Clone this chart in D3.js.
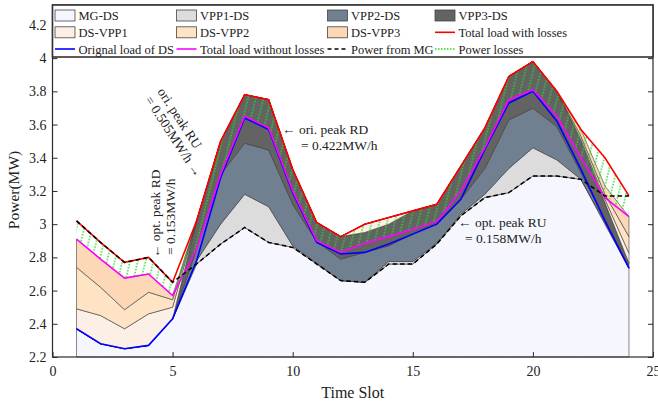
<!DOCTYPE html>
<html>
<head>
<meta charset="utf-8">
<script src="https://cdn.jsdelivr.net/npm/d3@7/dist/d3.min.js"></script>
<style>
body { margin: 0; background: #fff; }
svg { display: block; font-family: "Liberation Serif", "Times New Roman", serif; }
</style>
</head>
<body>
<svg id="chart" width="658" height="405"></svg>
<script>

//------------------------------------------------------------------------------
// Data
//------------------------------------------------------------------------------

var hours = [1,2,3,4,5,6,7,8,9,10,11,12,13,14,15,16,17,18,19,20,21,22,23,24];

// stacked areas, bottom to top (MG-DS is absolute, the rest are thicknesses)
var mgDs   = [2.37,2.28,2.25,2.27,2.43,2.76,2.88,2.98,2.89,2.86,2.76,2.66,2.65,2.76,2.76,2.88,3.05,3.16,3.19,3.29,3.29,3.27,3.00,2.735];
var vpp1Ds = [0,0,0,0,0,0.02,0.12,0.20,0.215,0.01,0.005,0,0,0.015,0.015,0.005,0.01,0.02,0.146,0.17,0.097,0,0.01,0];
var vpp2Ds = [0,0,0,0,0,0.07,0.30,0.307,0.342,0.25,0.13,0.13,0.18,0.095,0.165,0.125,0.09,0.156,0.292,0.238,0.201,0.04,0.02,0];
var vpp3Ds = [0,0,0,0,0,0.17,0.20,0.293,0.303,0.21,0.115,0.135,0.12,0.13,0.14,0.11,0.20,0.244,0.262,0.282,0.212,0.19,0.10,0.03];
var dsVpp1 = [0.12,0.17,0.12,0.19,0.07,0,0,0,0,0,0,0,0.05,0.04,0,0,0,0,0,0,0,0.01,0.02,0.06];
var dsVpp2 = [0.25,0.17,0.115,0.13,0.045,0,0,0,0,0,0,0,0,0,0,0,0,0,0,0,0,0.02,0.03,0.10];
var dsVpp3 = [0.17,0.17,0.19,0.11,0.025,0,0,0,0,0,0,0,0,0,0,0,0,0,0,0,0,0.04,0.05,0.12];

// lines
var origLoad   = [2.37,2.28,2.25,2.27,2.43,2.78,3.28,3.64,3.57,3.19,2.89,2.82,2.83,2.88,2.94,3.00,3.15,3.45,3.73,3.80,3.62,3.33,3.02,2.735];
var loadNoLoss = [2.91,2.79,2.675,2.70,2.57,2.85,3.30,3.65,3.58,3.20,2.90,2.83,2.885,2.925,2.97,3.015,3.20,3.46,3.75,3.81,3.65,3.40,3.16,3.045];
var loadLoss   = [3.02,2.89,2.77,2.80,2.65,3.02,3.50,3.78,3.75,3.33,3.01,2.925,3.00,3.04,3.08,3.12,3.35,3.58,3.89,3.98,3.80,3.57,3.40,3.17];
var mgPower    = [3.02,2.89,2.77,2.80,2.65,2.76,2.88,2.98,2.89,2.86,2.76,2.66,2.65,2.76,2.76,2.88,3.05,3.16,3.19,3.29,3.29,3.27,3.17,3.17];

var xTicks = [0,5,10,15,20,25];
var yTicks = [2.2,2.4,2.6,2.8,3,3.2,3.4,3.6,3.8,4,4.2];

var areaKeys   = ["MG-DS","VPP1-DS","VPP2-DS","VPP3-DS","DS-VPP1","DS-VPP2","DS-VPP3"];
var areaValues = [mgDs, vpp1Ds, vpp2Ds, vpp3Ds, dsVpp1, dsVpp2, dsVpp3];
var areaColors = ["#f6f7fe","#dcdcdc","#708090","#636363","#fcf0e6","#fee4c4","#fdd8b6"];

//------------------------------------------------------------------------------
// Layout
//------------------------------------------------------------------------------

var plot = { left: 52.5, right: 653, top: 5, bottom: 357 };
var green = "#1fdc1f";

var svg = d3.select("#chart");

var x = d3.scaleLinear().domain([0, 25]).range([plot.left, plot.right]);
var y = d3.scaleLinear().domain([2.2, 4.32]).range([plot.bottom, plot.top]).clamp(true);

var rows = hours.map(function(h, i) {
  var r = { hour: h };
  areaKeys.forEach(function(k, j) { r[k] = areaValues[j][i]; });
  return r;
});
var stacked = d3.stack().keys(areaKeys)(rows);

//--------------------------------------
// Areas
//--------------------------------------

var area = d3.area()
  .x(function(d) { return x(d.data.hour); })
  .y0(function(d) { return y(d[0]); })
  .y1(function(d) { return y(d[1]); });

svg.append("g").selectAll("path")
  .data(stacked)
  .enter().append("path")
    .attr("d", area)
    .attr("fill", function(d, i) { return areaColors[i]; })
    .attr("stroke", "#3a3a3a")
    .attr("stroke-width", 0.6)
    .attr("stroke-linejoin", "round");

// power losses hatch between the two total load lines
var defs = svg.append("defs");
var pat = defs.append("pattern")
  .attr("id", "lossHatch")
  .attr("patternUnits", "userSpaceOnUse")
  .attr("width", 7.5)
  .attr("height", 6)
  .attr("patternTransform", "rotate(14)");
pat.append("line")
  .attr("x1", 2).attr("y1", 0).attr("x2", 2).attr("y2", 6)
  .attr("stroke", green)
  .attr("stroke-width", 1.4)
  .attr("stroke-dasharray", "1.5,1.5");

var lossArea = d3.area()
  .x(function(d, i) { return x(hours[i]); })
  .y0(function(d, i) { return y(loadNoLoss[i]); })
  .y1(function(d, i) { return y(loadLoss[i]); });

svg.append("path")
  .attr("d", lossArea(hours))
  .attr("fill", "url(#lossHatch)");

//--------------------------------------
// Lines
//--------------------------------------

function drawLine(values, color, width, dash) {
  var line = d3.line()
    .x(function(d, i) { return x(hours[i]); })
    .y(function(d) { return y(d); });
  svg.append("path")
    .attr("d", line(values))
    .attr("fill", "none")
    .attr("stroke", color)
    .attr("stroke-width", width)
    .attr("stroke-dasharray", dash || null);
}

drawLine(origLoad, "#0000ff", 1.6);
drawLine(loadNoLoss, "#ff00ff", 1.6);
drawLine(loadLoss, "#ff0000", 1.6);
drawLine(mgPower, "#000000", 1.5, "4.5,3");

//--------------------------------------
// Axes
//--------------------------------------

var axisColor = "#2b2b2b";

var xAxis = svg.append("g")
  .attr("transform", "translate(0," + plot.bottom + ")")
  .call(d3.axisBottom(x).tickValues(xTicks).tickSize(-5).tickSizeOuter(0).tickPadding(9)
    .tickFormat(function(d) { return String(d); }));

var yAxis = svg.append("g")
  .attr("transform", "translate(" + plot.left + ",0)")
  .call(d3.axisLeft(y).tickValues(yTicks).tickSize(-5).tickSizeOuter(0).tickPadding(6)
    .tickFormat(function(d) { return String(d); }));

var yAxisR = svg.append("g")
  .attr("transform", "translate(" + plot.right + ",0)")
  .call(d3.axisRight(y).tickValues(yTicks).tickSize(-5).tickSizeOuter(0).tickFormat(""));

[xAxis, yAxis, yAxisR].forEach(function(g) {
  g.attr("font-family", null).attr("font-size", null);
  g.select(".domain").remove();
  g.selectAll("line").attr("stroke", axisColor);
  g.selectAll("text").attr("fill", "#222").style("font-size", "14px");
});

svg.append("rect")
  .attr("x", plot.left).attr("y", plot.top)
  .attr("width", plot.right - plot.left).attr("height", plot.bottom - plot.top)
  .attr("fill", "none")
  .attr("stroke", axisColor)
  .attr("stroke-width", 1.2);

svg.append("text")
  .attr("transform", "translate(19," + 190 + ") rotate(-90)")
  .attr("text-anchor", "middle")
  .style("font-size", "15.5px")
  .attr("fill", "#222")
  .text("Power(MW)");

svg.append("text")
  .attr("x", (plot.left + plot.right) / 2)
  .attr("y", 398)
  .attr("text-anchor", "middle")
  .style("font-size", "16px")
  .attr("fill", "#222")
  .text("Time Slot");

//--------------------------------------
// Annotations
//--------------------------------------

function note(lines, px, py, angle, lineGap) {
  var g = svg.append("g")
    .attr("transform", "translate(" + px + "," + py + ") rotate(" + angle + ")");
  lines.forEach(function(l, i) {
    g.append("text")
      .attr("x", l.dx || 0)
      .attr("y", i * lineGap)
      .attr("dy", "0.35em")
      .style("font-size", "13.5px")
      .attr("fill", "#222")
      .text(l.t);
  });
}

note([{t: "ori. peak RU"}, {t: "= 0.505MW/h \u2192"}], 161, 89, 57, 15);
note([{t: "\u2190 opt. peak RD"}, {t: "= 0.153MW/h", dx: 3}], 155, 258, -90, 15);
note([{t: "\u2190 ori. peak RD"}, {t: "= 0.422MW/h", dx: 19}], 282, 129, 0, 16);
note([{t: "\u2190 opt. peak RU"}, {t: "= 0.158MW/h", dx: 7}], 458, 222, 0, 16);

//--------------------------------------
// Legend
//--------------------------------------

var legendCols = [55, 176.5, 327.5, 435];
var legendRows = [15.5, 32.3, 49];
var legendItems = [
  {label: "MG-DS",    type: "box",  color: areaColors[0], c: 0, r: 0},
  {label: "VPP1-DS",  type: "box",  color: areaColors[1], c: 1, r: 0},
  {label: "VPP2-DS",  type: "box",  color: areaColors[2], c: 2, r: 0},
  {label: "VPP3-DS",  type: "box",  color: areaColors[3], c: 3, r: 0},
  {label: "DS-VPP1",  type: "box",  color: areaColors[4], c: 0, r: 1},
  {label: "DS-VPP2",  type: "box",  color: areaColors[5], c: 1, r: 1},
  {label: "DS-VPP3",  type: "box",  color: areaColors[6], c: 2, r: 1},
  {label: "Total load with losses",    type: "line", color: "#ff0000", c: 3, r: 1},
  {label: "Orignal load of DS",        type: "line", color: "#0000ff", c: 0, r: 2},
  {label: "Total load without losses", type: "line", color: "#ff00ff", c: 1, r: 2},
  {label: "Power from MG", type: "line", color: "#000000", dash: "4,3", c: 2, r: 2},
  {label: "Power losses",  type: "line", color: green, dash: "1.5,1.5", c: 3, r: 2}
];

var legend = svg.append("g");
legend.append("rect")
  .attr("x", plot.left).attr("y", plot.top)
  .attr("width", plot.right - plot.left).attr("height", 52)
  .attr("fill", "#fff")
  .attr("stroke", "#333")
  .attr("stroke-width", 1.6);

legendItems.forEach(function(it) {
  var lx = legendCols[it.c], ly = legendRows[it.r];
  if (it.type == "box") {
    legend.append("rect")
      .attr("x", lx).attr("y", ly - 5.5)
      .attr("width", 20).attr("height", 11)
      .attr("fill", it.color)
      .attr("stroke", "#444")
      .attr("stroke-width", 0.8);
  } else {
    legend.append("line")
      .attr("x1", lx).attr("x2", lx + 20)
      .attr("y1", ly).attr("y2", ly)
      .attr("stroke", it.color)
      .attr("stroke-width", it.dash == "1.5,1.5" ? 1.4 : 1.6)
      .attr("stroke-dasharray", it.dash || null);
  }
  legend.append("text")
    .attr("x", lx + 23.5)
    .attr("y", ly)
    .attr("dy", "0.36em")
    .style("font-size", "12.5px")
    .attr("fill", "#222")
    .text(it.label);
});

</script>
</body>
</html>
